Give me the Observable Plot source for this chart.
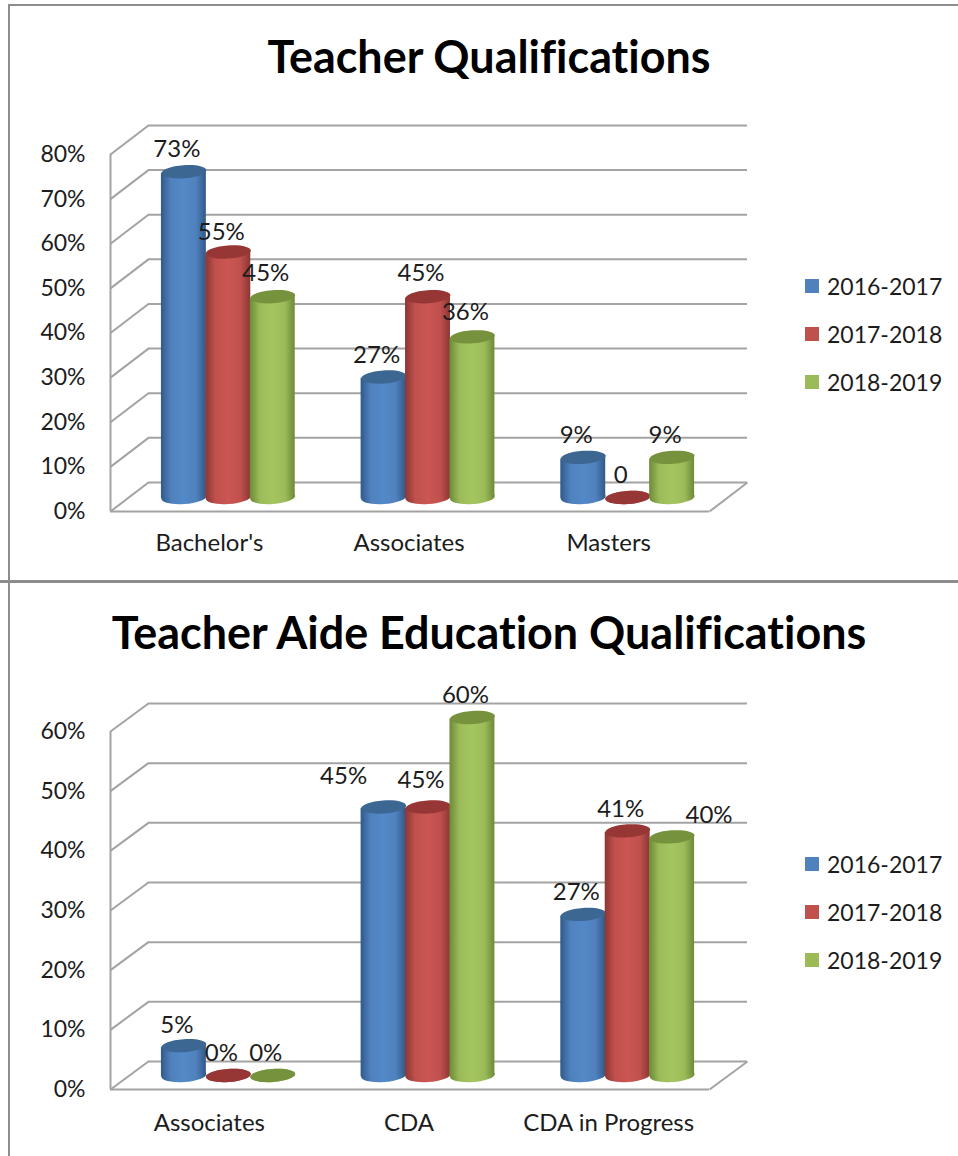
<!DOCTYPE html>
<html>
<head>
<meta charset="utf-8">
<script src="https://cdn.jsdelivr.net/npm/d3@7"></script>
<script src="https://cdn.jsdelivr.net/npm/@observablehq/plot@0.6"></script>
<style>
  html, body { margin: 0; padding: 0; background: #fff; }
  body { position: relative; width: 958px; height: 1156px; overflow: hidden; font-family: Lato, sans-serif; color: #1c1c1c; font-variant-ligatures: none; }
  .rule { position: absolute; background: #8d8d8d; }
  .title { position: absolute; left: 8px; width: 962px; text-align: center; font-weight: 700; color: #000; white-space: nowrap; line-height: 1; font-variant-ligatures: none; }
  .panel { position: absolute; left: 0; }
  .panel svg { display: block; background: transparent; font-variant-ligatures: none; }
  .legend { position: absolute; left: 805px; font-size: 23px; }
  .legend div { position: absolute; left: 0; white-space: nowrap; line-height: 1; height: 24px; }
  .legend i { position: absolute; left: 0; top: 5px; width: 14px; height: 14px; }
  .legend span { position: absolute; left: 22px; top: 1px; }
</style>
</head>
<body>
<svg width="0" height="0" style="position:absolute">
  <defs id="defs"></defs>
</svg>
<div class="rule" style="left:8px;top:4px;width:950px;height:2px"></div>
<div class="rule" style="left:8px;top:4px;width:2px;height:1152px"></div>
<div class="rule" style="left:0;top:580px;width:958px;height:3px"></div>
<script>
// ---- data ----
const seasons = ["2016-2017", "2017-2018", "2018-2019"];
const seasonColors = ["#4f81bd", "#c0504d", "#9bbb59"];
const seasonEdges = ["#31598a", "#8b3634", "#6d8a38"];
const seasonLights = ["#5389c8", "#cb5653", "#a4c65f"];
const seasonCaps = ["#3c6793", "#963735", "#76923c"];

const teacherTitle = "Teacher Qualifications";
const teacherCategories = ["Bachelor's", "Associates", "Masters"];
const teacher1617 = [73, 27, 9];
const teacher1718 = [55, 45, 0];
const teacher1819 = [45, 36, 9];
const teacherLabels = [["73%", "27%", "9%"], ["55%", "45%", "0"], ["45%", "36%", "9%"]];
const teacherTicks = [0, 10, 20, 30, 40, 50, 60, 70, 80];

const aideTitle = "Teacher Aide Education Qualifications";
const aideCategories = ["Associates", "CDA", "CDA in Progress"];
const aide1617 = [5, 45, 27];
const aide1718 = [0, 45, 41];
const aide1819 = [0, 60, 40];
const aideLabels = [["5%", "45%", "27%"], ["0%", "45%", "41%"], ["0%", "60%", "40%"]];
const aideTicks = [0, 10, 20, 30, 40, 50, 60];

// ---- gradients ----
document.getElementById("defs").innerHTML = seasons.map((s, i) => `
  <linearGradient id="cyl${i}" x1="0" x2="1" y1="0" y2="0">
    <stop offset="0" stop-color="${seasonEdges[i]}"/>
    <stop offset="0.22" stop-color="${seasonColors[i]}"/>
    <stop offset="0.5" stop-color="${seasonLights[i]}"/>
    <stop offset="0.78" stop-color="${seasonColors[i]}"/>
    <stop offset="1" stop-color="${seasonEdges[i]}"/>
  </linearGradient>`).join("");

// flat ellipse drawn as a custom dot symbol
const ellipseSymbol = {
  draw(ctx, size) {
    const rx = Math.sqrt(size / Math.PI), ry = rx * 0.29, k = 0.5523;
    ctx.moveTo(-rx, 0);
    ctx.bezierCurveTo(-rx, -k * ry, -k * rx, -ry, 0, -ry);
    ctx.bezierCurveTo(k * rx, -ry, rx, -k * ry, rx, 0);
    ctx.bezierCurveTo(rx, k * ry, k * rx, ry, 0, ry);
    ctx.bezierCurveTo(-k * rx, ry, -rx, k * ry, -rx, 0);
    ctx.closePath();
  }
};

const FONT = "Lato, sans-serif";
const depthX = 0.19;      // depth of the floor, in category units
const barStep = 0.2225;
const barHalf = 0.1125;
const barLift = 0.09;
const tiltPx = 1.57;      // vertical drop of a cylinder's left edge

function drawChart({top, height, marginTop, marginBottom, categories, series, labels, ticks, depthY, pxPerUnit, nudges, title, titleTop, axisPad, legendTop}) {
  const rows = series.flatMap((vals, s) => vals.map((v, c) => ({
    s, c, v, label: labels[s][c],
    xc: c + barLift + (s - 1) * barStep
  })));
  const yMax = ticks[ticks.length - 1];
  const grey = "#a3a3a3";
  const wall = {stroke: grey, strokeWidth: 2};
  const tilt = tiltPx / pxPerUnit;

  const cylinderMarks = seasons.flatMap((_, s) => {
    const d = rows.filter(r => r.s === s);
    const body = d.filter(r => r.v > 0).flatMap(r => [
      {c: r.c, x: r.xc - barHalf, y1: -tilt, y2: r.v - tilt},
      {c: r.c, x: r.xc + barHalf, y1: tilt, y2: r.v + tilt}
    ]);
    return [
      Plot.dot(d, {x: "xc", y: 0, r: 22.5, symbol: ellipseSymbol, rotate: -4, dy: -14, fill: `url(#cyl${s})`, stroke: "none"}),
      Plot.areaY(body, {x: "x", y1: "y1", y2: "y2", z: "c", dy: -14, fill: `url(#cyl${s})`, curve: "linear"}),
      Plot.dot(d, {x: "xc", y: "v", r: 22.5, symbol: ellipseSymbol, rotate: -4, dy: -14, fill: seasonCaps[s], stroke: "none"})
    ];
  });

  const chart = Plot.plot({
    width: 958,
    height,
    marginTop,
    marginBottom,
    marginLeft: 110,
    marginRight: 211,
    style: {background: "transparent", fontFamily: FONT, color: "#1c1c1c"},
    x: {type: "linear", domain: [-0.5, 2.5 + depthX], axis: null},
    y: {type: "linear", domain: [0, yMax + depthY], axis: null},
    marks: [
      // back wall
      Plot.ruleY(ticks.map(t => t + depthY), {x1: -0.5 + depthX, x2: 2.5 + depthX, ...wall}),
      // left wall slants
      Plot.link(ticks, {x1: -0.5, x2: -0.5 + depthX, y1: t => t, y2: t => t + depthY, ...wall}),
      // front-left upright and floor
      Plot.ruleX([-0.5], {y1: 0, y2: yMax, ...wall}),
      Plot.ruleY([0], {x1: -0.5, x2: 2.5, ...wall}),
      Plot.link([0], {x1: 2.5, x2: 2.5 + depthX, y1: 0, y2: depthY, ...wall}),
      ...cylinderMarks,
      Plot.text(rows, {
        x: r => r.xc + (nudges[`${r.s}-${r.c}`]?.[0] ?? 0),
        y: r => r.v + (nudges[`${r.s}-${r.c}`]?.[1] ?? 0),
        text: "label", dy: -36, dx: -7, fontSize: 24, fill: "#1c1c1c", lineAnchor: "middle"
      }),
      Plot.axisY({ticks, tickSize: 0, tickPadding: 25, tickFormat: d => d + "%", fontSize: 23, anchor: "left", label: null, stroke: "none"}),
      Plot.axisX({ticks: [0, 1, 2], tickSize: 0, tickPadding: axisPad, tickFormat: i => categories[i], fontSize: 24, anchor: "bottom", label: null, stroke: "none", dx: -1})
    ]
  });
  const panel = document.createElement("div");
  panel.className = "panel";
  panel.style.top = top + "px";
  panel.appendChild(chart);
  document.body.appendChild(panel);

  const t = document.createElement("div");
  t.className = "title";
  t.textContent = title;
  t.style.top = titleTop + "px";
  t.style.fontSize = "44.9px";
  document.body.appendChild(t);

  const legend = document.createElement("div");
  legend.className = "legend";
  legend.style.top = legendTop + "px";
  seasons.forEach((s, i) => {
    const row = document.createElement("div");
    row.style.top = (i * 48) + "px";
    row.innerHTML = `<i style="background:${seasonColors[i]}"></i><span>${s}</span>`;
    legend.appendChild(row);
  });
  document.body.appendChild(legend);
}

drawChart({
  top: 0, height: 580, marginTop: 125, marginBottom: 69,
  categories: teacherCategories,
  series: [teacher1617, teacher1718, teacher1819],
  labels: teacherLabels,
  ticks: teacherTicks,
  depthY: 6.5,
  pxPerUnit: 4.4625,
  axisPad: 22,
  nudges: {"1-0": [0, -0.6], "2-0": [0, 0.4], "2-1": [0, 0.6], "1-1": [0, 0.4]},
  title: teacherTitle, titleTop: 34,
  legendTop: 274
});

drawChart({
  top: 582, height: 574, marginTop: 121, marginBottom: 67,
  categories: aideCategories,
  series: [aide1617, aide1718, aide1819],
  labels: aideLabels,
  ticks: aideTicks,
  depthY: 4.69,
  pxPerUnit: 5.967,
  axisPad: 24,
  nudges: {"0-0": [0, -0.3], "0-1": [-0.165, 1.5], "1-1": [0, 0.8], "2-2": [0.22, 0]},
  title: aideTitle, titleTop: 610,
  legendTop: 852
});
</script>
</body>
</html>
